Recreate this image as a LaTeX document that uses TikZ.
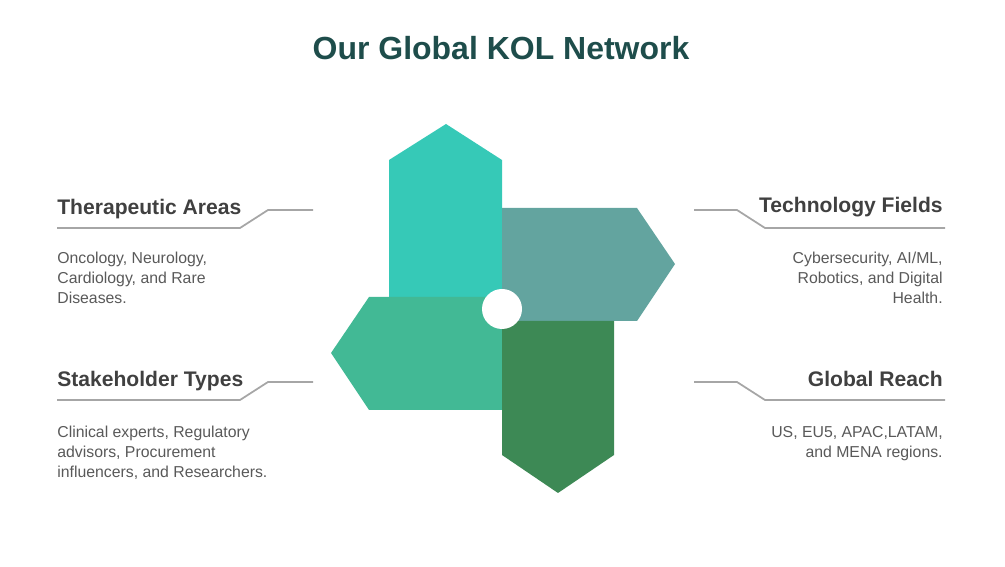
\documentclass[tikz,border=0pt]{standalone}
\usepackage{fontspec}
\setmainfont{Liberation Sans}
\usepackage{xcolor}
\definecolor{titleteal}{HTML}{1E4D4B}
\definecolor{headgray}{HTML}{404040}
\definecolor{bodygray}{HTML}{595959}
\definecolor{linegray}{HTML}{A6A6A6}
\definecolor{armtop}{HTML}{36C9B7}
\definecolor{armright}{HTML}{63A49F}
\definecolor{armleft}{HTML}{42B995}
\definecolor{armbottom}{HTML}{3D8955}
\tikzset{
  head/.style={font=\bfseries\fontsize{12}{14}\selectfont, text=headgray, inner sep=0pt},
  body/.style={font=\fontsize{9}{11.2}\selectfont, text=bodygray, inner sep=0pt},
  rule/.style={draw=linegray, line width=1pt},
}
\begin{document}
\begin{tikzpicture}[x=0.02cm,y=-0.02cm]
  \useasboundingbox (0,0) rectangle (1005,567);
  % Title
  \node[font=\bfseries\fontsize{18.2}{21}\selectfont, text=titleteal] (title) at (501,48) {Our Global KOL Network};

  % The four arms
  \fill[armtop] (389,298) -- (389,160) -- (446,124) -- (502,160) -- (502,298) -- cycle;
  \fill[armleft] (502,297) -- (369,297) -- (331,353) -- (369,410) -- (502,410) -- cycle;
  \fill[armright] (502,208) -- (637,208) -- (675,264) -- (637,321) -- (502,321) -- cycle;
  \fill[armbottom] (502,321) -- (614,321) -- (614,455) -- (558,493) -- (502,455) -- cycle;
  \fill[white] (502,309) circle (20);

  % Left side
  \node[head, anchor=west] (thera) at (57,209) {Therapeutic Areas};
  \draw[rule] (57,228) -- (240,228) -- (268,210) -- (313,210) coordinate (theraend);
  \node[body, anchor=north west, align=left] (therabody) at (57,252)
    {Oncology, Neurology,\\Cardiology, and Rare\\Diseases.};

  \node[head, anchor=west] (stake) at (57,381) {Stakeholder Types};
  \draw[rule] (57,400) -- (240,400) -- (268,382) -- (313,382) coordinate (stakeend);
  \node[body, anchor=north west, align=left] (stakebody) at (57,426)
    {Clinical experts, Regulatory\\advisors, Procurement\\influencers, and Researchers.};

  % Right side
  \node[head, anchor=east] (techno) at (943,207) {Technology Fields};
  \draw[rule] (694,210) coordinate (technoend) -- (737,210) -- (765,228) -- (945,228);
  \node[body, anchor=north east, align=right] (technobody) at (943,252)
    {Cybersecurity, AI/ML,\\Robotics, and Digital\\Health.};

  \node[head, anchor=east] (reach) at (943,379) {Global Reach};
  \draw[rule] (694,382) coordinate (reachend) -- (737,382) -- (765,400) -- (945,400);
  \node[body, anchor=north east, align=right] (reachbody) at (943,426)
    {US, EU5, APAC,LATAM,\\and MENA regions.};
\end{tikzpicture}
\end{document}
